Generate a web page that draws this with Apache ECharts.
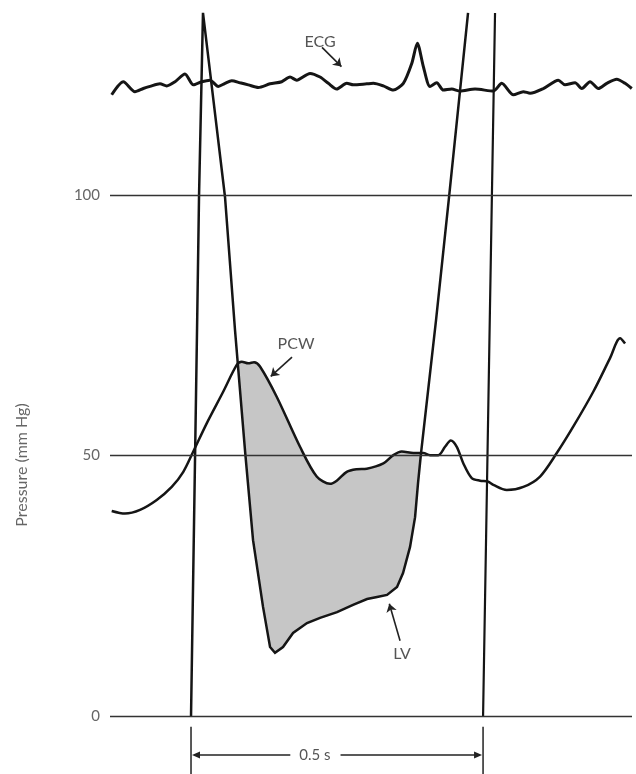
<!DOCTYPE html>
<html><head><meta charset="utf-8">
<script src="https://cdn.jsdelivr.net/npm/echarts@6/dist/echarts.min.js"></script>
<style>html,body{margin:0;padding:0;background:#fff}#c{width:636px;height:774px}</style>
</head><body><div id="c"></div>
<script>
// ---- data (time in ms from LV foot, pressure in mm Hg) ----
const yTickValues = [0, 50, 100];
const lvTime = [0, 10.3, 13.7, 20.5, 58.2, 75.3, 92.5, 106.2, 123.3, 135.3, 143.8, 157.5, 174.7, 198.6, 220.9, 250.0, 277.4, 301.4, 318.5, 335.6, 352.7, 363.0, 375.0, 383.6, 388.7, 393.8, 419.5, 441.8, 474.3];
const lvPressure = [0, 74.1, 99.6, 134.9, 99.6, 74.1, 50.9, 33.8, 21.0, 13.3, 12.2, 13.3, 16.0, 17.9, 18.9, 20.0, 21.4, 22.5, 22.9, 23.3, 24.8, 27.5, 32.5, 38.2, 44.8, 50.5, 76.0, 99.6, 134.9];
const nextLvTime = [500, 511.5, 520.5];
const nextLvPressure = [0, 76.0, 134.9];
const pcwTime = [-135.8, -113.0, -87.3, -58.7, -33.0, -13.2, 3.9, 26.9, 55.3, 78.3, 86.8, 98.1, 107.9, 118.1, 146.7, 186.6, 215.2, 238.0, 249.5, 266.6, 283.7, 300.9, 329.3, 346.4, 360.8, 380.7, 397.8, 409.2, 423.5, 434.9, 444.7, 455.0, 466.3, 480.6, 494.9, 509.1, 517.6, 540.6, 569.0, 597.6, 626.2, 654.6, 688.9, 717.4, 734.6, 743.1];
const pcwPressure = [39.4, 38.9, 39.6, 41.5, 44.0, 46.9, 50.8, 56.2, 62.3, 67.4, 68.0, 67.7, 67.9, 67.1, 61.3, 51.7, 46.0, 44.6, 45.2, 46.9, 47.4, 47.5, 48.5, 50.1, 50.8, 50.5, 50.5, 50.1, 50.1, 51.7, 52.9, 51.7, 48.5, 45.7, 45.2, 45.0, 44.4, 43.4, 44.0, 46.0, 50.5, 55.6, 62.3, 68.7, 72.5, 71.5];
const ecgTime = [-135.8, -115.9, -95.9, -81.7, -70.2, -53.1, -41.6, -27.4, -10.3, 3.9, 18.3, 32.5, 46.7, 58.2, 69.7, 83.9, 98.1, 115.2, 135.3, 155.3, 169.5, 181.0, 203.8, 220.9, 235.1, 249.5, 266.6, 277.9, 300.9, 312.2, 329.3, 346.4, 363.5, 377.9, 387.5, 397.8, 409.2, 420.7, 432.0, 446.4, 460.6, 486.3, 517.6, 532.0, 551.9, 568.9, 580.5, 603.2, 628.9, 640.4, 657.5, 669.0, 683.2, 697.4, 711.8, 728.9, 743.1, 754.6];
const ecgLevel = [119.2, 121.7, 119.8, 120.4, 120.8, 121.3, 120.9, 121.7, 123.2, 121.1, 121.7, 122.0, 120.8, 121.4, 121.9, 121.5, 121.1, 120.6, 121.3, 121.7, 122.6, 122.0, 123.3, 122.6, 121.4, 120.3, 121.4, 121.1, 121.3, 121.4, 120.9, 120.1, 121.4, 125.2, 129.1, 124.6, 120.8, 121.5, 120.1, 120.3, 119.9, 120.3, 119.9, 121.4, 119.2, 119.8, 119.5, 120.4, 122.0, 121.1, 121.5, 120.4, 121.7, 120.4, 121.4, 122.2, 121.4, 120.4];
const spanLabel = '0.5 s';
const spanStart = 0, spanEnd = 500;

// ---- helpers ----
const zip = (xs, ys) => xs.map((x, i) => [x, ys[i]]);
function interp(xs, ys, x) {
  for (let i = 0; i < xs.length - 1; i++) {
    if (x >= xs[i] && x <= xs[i + 1]) {
      const t = (x - xs[i]) / (xs[i + 1] - xs[i]);
      return ys[i] + t * (ys[i + 1] - ys[i]);
    }
  }
  return null;
}
const diff = x => interp(pcwTime, pcwPressure, x) - interp(lvTime, lvPressure, x);
function cross(a, b) {
  let fa = diff(a);
  for (let k = 0; k < 40; k++) {
    const m = (a + b) / 2, fm = diff(m);
    if ((fm > 0) === (fa > 0)) { a = m; fa = fm; } else b = m;
  }
  return (a + b) / 2;
}
const xa = cross(58.2, 92.5), xb = cross(383.6, 419.5);
const shadePts = [];
shadePts.push([xa, interp(pcwTime, pcwPressure, xa)]);
pcwTime.forEach((t, i) => { if (t > xa && t < xb) shadePts.push([t, pcwPressure[i]]); });
shadePts.push([xb, interp(pcwTime, pcwPressure, xb)]);
for (let i = lvTime.length - 1; i >= 0; i--) if (lvTime[i] > xa && lvTime[i] < xb) shadePts.push([lvTime[i], lvPressure[i]]);

const FONT = 'Lato, "Open Sans", sans-serif';
const txt = { color: '#555', fontFamily: FONT, fontSize: 16 };
const lineCol = '#151515';
const arrowStyle = { type: 'solid', color: '#222', width: 1.6 };

const chart = echarts.init(document.getElementById('c'), null, { renderer: 'canvas' });
chart.setOption({
  animation: false,
  backgroundColor: '#fff',
  grid: { left: 110, right: 4, top: 7.16, bottom: 57.6, containLabel: false },
  xAxis: { type: 'value', min: -138.7, max: 755, show: false },
  yAxis: {
    type: 'value', min: 0, max: 136, interval: 50,
    axisLine: { show: false }, axisTick: { show: false },
    axisLabel: { margin: 10, color: '#666', fontSize: 15, fontFamily: FONT, showMaxLabel: false,
      formatter: v => yTickValues.includes(v) ? String(v) : '' },
    splitLine: { show: false }
  },
  series: [
    {
      type: 'custom', z: 1, silent: true, data: [[xa, 0]],
      renderItem: (params, api) => ({
        type: 'polygon',
        shape: { points: shadePts.map(p => api.coord(p)) },
        style: { fill: '#c6c6c6', stroke: 'none' }
      })
    },
    {
      name: 'gridlines', type: 'line', data: [], z: 0, silent: true,
      markLine: {
        silent: true, symbol: 'none', animation: false, label: { show: false },
        lineStyle: { type: 'solid', color: '#333', width: 1.4 }, emphasis: { disabled: true },
        data: yTickValues.map(v => ({ yAxis: v }))
      }
    },
    { name: 'ECG', type: 'line', z: 3, data: zip(ecgTime, ecgLevel), showSymbol: false, smooth: 0.25,
      lineStyle: { color: lineCol, width: 3 } },
    { name: 'PCW', type: 'line', z: 3, data: zip(pcwTime, pcwPressure), showSymbol: false, smooth: 0.3,
      lineStyle: { color: lineCol, width: 2.5 } },
    { name: 'LV', type: 'line', z: 3, data: zip(lvTime, lvPressure), showSymbol: false, smooth: false,
      lineStyle: { color: lineCol, width: 2.5, join: 'miter' } },
    { name: 'LV next', type: 'line', z: 3, data: zip(nextLvTime, nextLvPressure), showSymbol: false,
      lineStyle: { color: lineCol, width: 2.2 } },
    {
      name: 'annotations', type: 'line', data: [], z: 4, silent: true,
      markLine: {
        silent: true, symbol: ['none', 'arrow'], symbolSize: 8, animation: false,
        label: { show: false }, lineStyle: arrowStyle, emphasis: { disabled: true },
        data: [
          [{ coord: [224.3, 128.3] }, { coord: [257.5, 124.6] }],
          [{ coord: [172.9, 68.9] }, { coord: [136.5, 65.2] }],
          [{ coord: [357.9, 14.5] }, { coord: [339.5, 21.6] }]
        ]
      },
      markPoint: {
        symbol: 'circle', symbolSize: 0, silent: true, animation: false,
        label: { show: true, position: 'inside', formatter: '{b}', ...txt },
        data: [
          { name: 'ECG', coord: [220.9, 129.3] },
          { name: 'PCW', coord: [179.8, 71.4] },
          { name: 'LV', coord: [361.3, 12.0] }
        ]
      }
    }
  ]
});

// bracket below the axis, positioned through the chart's own scales
const P = v => chart.convertToPixel({ gridIndex: 0 }, v);
const tl = P([spanStart, -2.0]), bl = P([spanStart, -11.2]);
const tr = P([spanEnd, -2.0]), br = P([spanEnd, -11.2]);
const l0 = P([spanStart, -7.4]), l1 = P([170, -7.4]);
const r0 = P([256, -7.4]), r1 = P([spanEnd, -7.4]);
const mid = P([212, -7.4]);
const ls = { stroke: '#222', lineWidth: 1.5 };
chart.setOption({
  graphic: [
    { type: 'text', x: 22, y: 465, rotation: Math.PI / 2,
      style: { text: 'Pressure (mm Hg)', fill: '#666', font: '16px ' + FONT, textAlign: 'center', textVerticalAlign: 'middle' } },
    { type: 'line', shape: { x1: tl[0], y1: tl[1], x2: bl[0], y2: bl[1] }, style: ls },
    { type: 'line', shape: { x1: tr[0], y1: tr[1], x2: br[0], y2: br[1] }, style: ls },
    { type: 'line', shape: { x1: l0[0] + 3, y1: l0[1], x2: l1[0], y2: l1[1] }, style: ls },
    { type: 'line', shape: { x1: r0[0], y1: r0[1], x2: r1[0] - 3, y2: r1[1] }, style: ls },
    { type: 'polygon', shape: { points: [[l0[0] + 1, l0[1]], [l0[0] + 9, l0[1] - 3.5], [l0[0] + 9, l0[1] + 3.5]] }, style: { fill: '#222' } },
    { type: 'polygon', shape: { points: [[r1[0] - 1, r1[1]], [r1[0] - 9, r1[1] - 3.5], [r1[0] - 9, r1[1] + 3.5]] }, style: { fill: '#222' } },
    { type: 'text', x: mid[0], y: mid[1],
      style: { text: spanLabel, fill: '#555', font: '15px ' + FONT, textAlign: 'center', textVerticalAlign: 'middle' } }
  ]
});
</script></body></html>
